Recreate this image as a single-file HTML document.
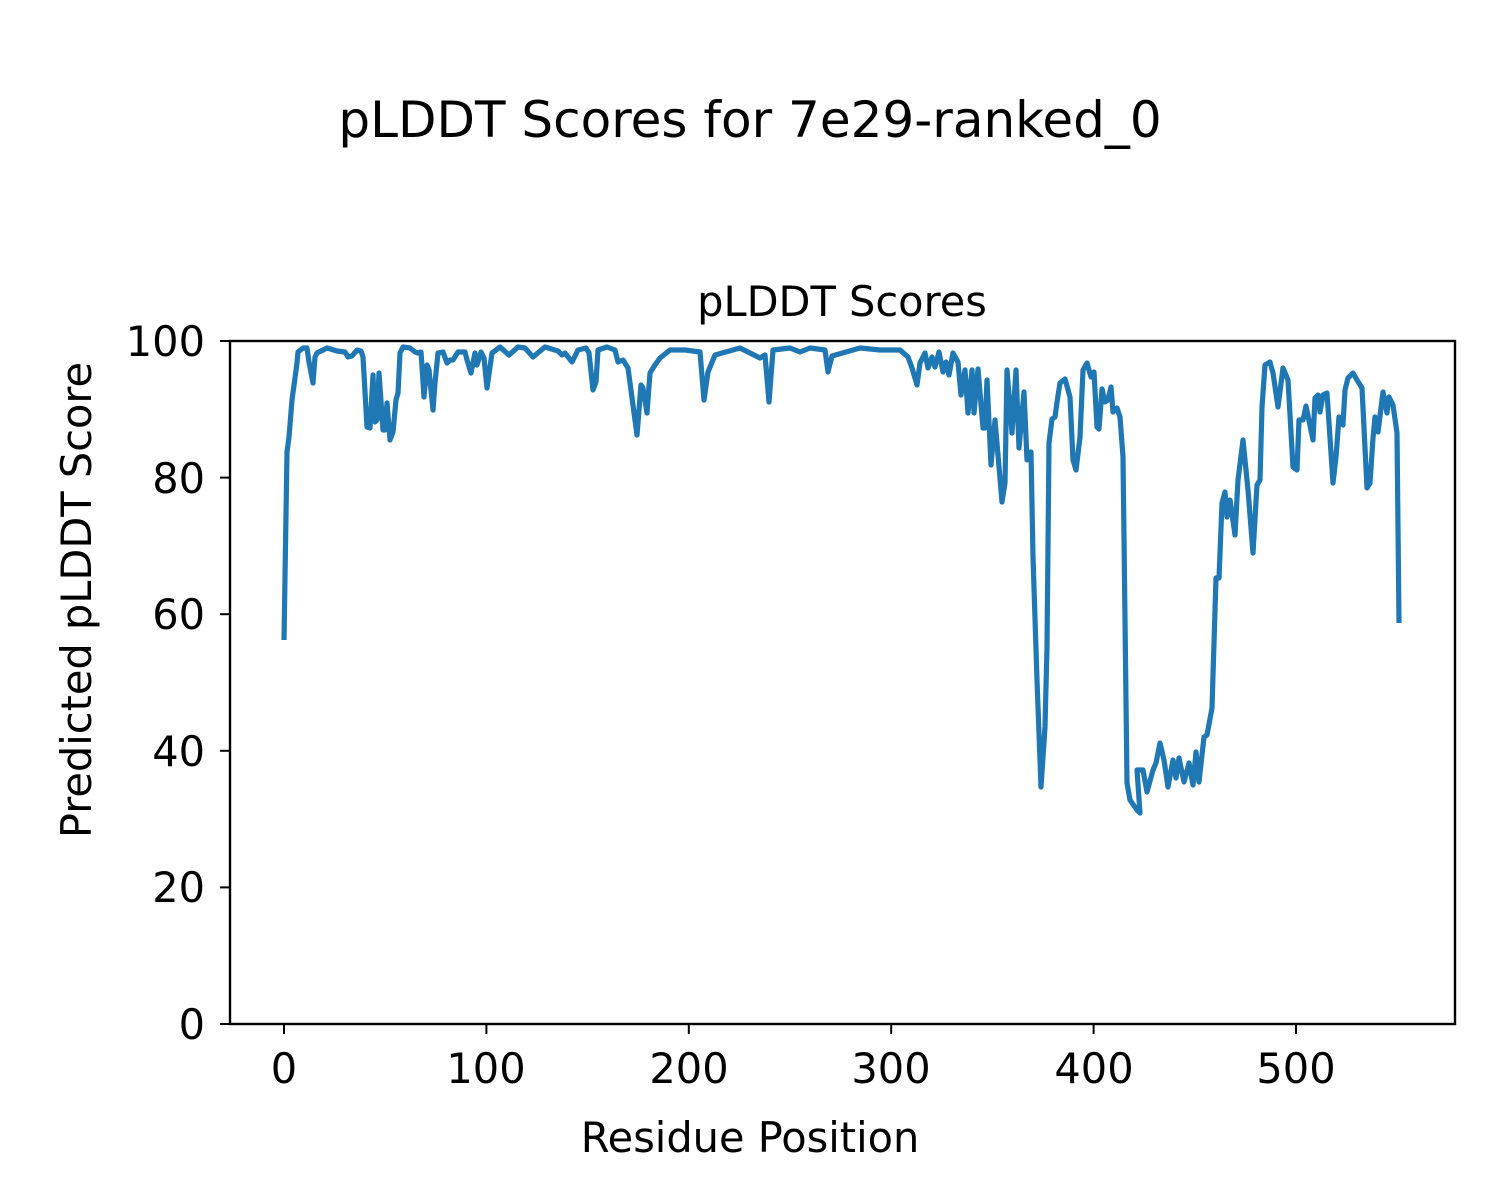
<!DOCTYPE html>
<html><head><style>body{margin:0;background:#fff}svg{display:block}</style></head><body>
<svg width="1500" height="1200" xmlns="http://www.w3.org/2000/svg" font-family="DejaVu Sans, Liberation Sans, sans-serif">
<rect width="1500" height="1200" fill="#fff"/>
<text x="750" y="137" font-size="50" text-anchor="middle">pLDDT Scores for 7e29-ranked_0</text>
<text x="842" y="316" font-size="41.5" text-anchor="middle">pLDDT Scores</text>
<polyline fill="none" stroke="#1f77b4" stroke-width="5.2" stroke-linejoin="round" points="284,640 287,452 289,437 292,400 297,363 298,352 303,348 307,348 309,362 313,383 315,357 317,353 327,348 337,351 345,352 348,357 352,356 357,350 361,351 363,357 367,427 370,428 373,375 375,422 377,420 379,373 383,430 385,430 387,403 390,440 393,432 396,400 398,393 400,353 403,347 410,348 415,352 418,353 421,352 424,397 427,365 429,370 433,410 435,383 438,353 443,352 447,363 450,360 453,360 458,352 465,352 467,360 471,373 475,353 477,365 481,352 484,358 487,388 492,353 500,347 509,355 518,347 525,348 533,357 545,347 558,351 562,355 565,353 572,362 578,350 586,348 589,353 593,390 596,382 598,350 607,347 615,350 618,362 623,360 628,368 637,435 641,385 643,388 647,413 650,373 655,365 660,358 670,350 685,350 700,352 704,400 708,372 715,355 740,348 760,358 765,355 769,402 773,350 790,348 800,352 810,348 825,350 828,372 832,356 860,348 880,350 900,350 908,357 912,368 917,385 920,363 925,353 928,368 932,357 935,367 939,352 943,372 946,362 949,375 953,353 958,362 961,395 965,370 968,413 972,370 974,413 978,369 983,428 985,428 987,380 991,465 995,420 1002,502 1005,483 1007,370 1012,433 1016,370 1019,448 1024,392 1027,460 1031,452 1033,557 1037,680 1041,787 1045,727 1047,647 1049,443 1052,419 1055,417 1057,402 1060,383 1065,379 1070,397 1073,460 1076,470 1080,437 1083,370 1087,363 1091,377 1094,372 1097,427 1099,429 1102,389 1105,402 1108,400 1111,387 1113,412 1117,408 1120,417 1123,457 1127,783 1130,800 1137,810 1140,813 1137,770 1143,770 1147,792 1153,770 1156,763 1160,743 1164,760 1168,787 1173,760 1176,778 1179,758 1184,782 1189,763 1193,785 1196,752 1199,782 1204,737 1207,735 1212,708 1216,578 1219,578 1222,503 1225,492 1227,517 1230,500 1235,535 1238,480 1243,440 1248,490 1253,553 1257,485 1260,480 1262,407 1265,365 1270,362 1273,373 1278,407 1283,368 1288,380 1293,467 1297,470 1299,420 1303,420 1306,406 1313,440 1315,398 1318,395 1320,412 1323,395 1327,393 1333,483 1336,457 1339,417 1343,425 1345,390 1348,378 1353,373 1357,380 1362,388 1367,488 1370,483 1373,438 1375,417 1378,432 1383,392 1387,413 1389,397 1393,405 1397,433 1399,623"/>
<rect x="230" y="341" width="1225" height="683" fill="none" stroke="#000" stroke-width="2.4"/>
<g stroke="#000" stroke-width="2">
<line x1="230" y1="1024" x2="220" y2="1024"/><line x1="230" y1="887.4" x2="220" y2="887.4"/><line x1="230" y1="750.8" x2="220" y2="750.8"/><line x1="230" y1="614.2" x2="220" y2="614.2"/><line x1="230" y1="477.6" x2="220" y2="477.6"/><line x1="230" y1="341" x2="220" y2="341"/>
<line x1="284" y1="1024" x2="284" y2="1034"/><line x1="486.4" y1="1024" x2="486.4" y2="1034"/><line x1="688.8" y1="1024" x2="688.8" y2="1034"/><line x1="891.2" y1="1024" x2="891.2" y2="1034"/><line x1="1093.6" y1="1024" x2="1093.6" y2="1034"/><line x1="1296" y1="1024" x2="1296" y2="1034"/>
</g>
<g font-size="41.5" text-anchor="end">
<text x="205" y="1039">0</text><text x="205" y="902">20</text><text x="205" y="766">40</text><text x="205" y="629">60</text><text x="205" y="493">80</text><text x="205" y="356">100</text>
</g>
<g font-size="41.5" text-anchor="middle">
<text x="284" y="1083">0</text><text x="486" y="1083">100</text><text x="689" y="1083">200</text><text x="891" y="1083">300</text><text x="1094" y="1083">400</text><text x="1296" y="1083">500</text>
<text x="750" y="1152">Residue Position</text>
<text transform="translate(91,600) rotate(-90)">Predicted pLDDT Score</text>
</g>
</svg>
</body></html>
